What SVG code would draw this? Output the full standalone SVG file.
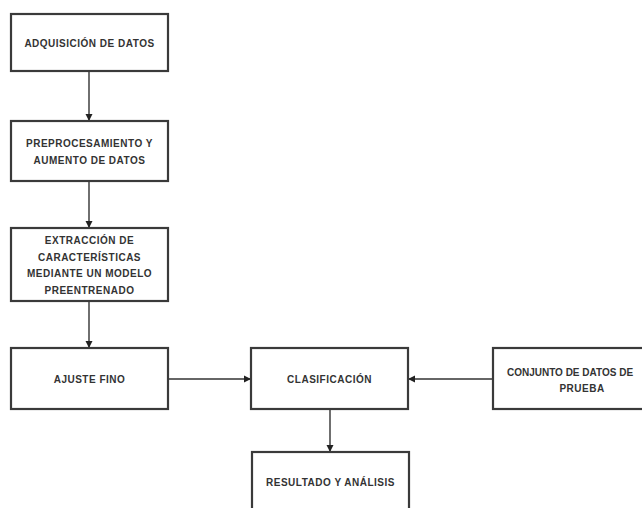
<svg xmlns="http://www.w3.org/2000/svg" width="642" height="508" viewBox="0 0 642 508">
<defs>
<marker id="ah" markerWidth="8" markerHeight="8" refX="7" refY="4" orient="auto" markerUnits="userSpaceOnUse">
<path d="M0,0.5 L7,4 L0,7.5 Z" fill="#222"/>
</marker>
<style>
.box{fill:#fff;stroke:#3a3a3a;stroke-width:2.2}
.t{font-family:"Liberation Sans",Arial,sans-serif;font-size:10px;font-weight:bold;fill:#333;text-anchor:middle;dominant-baseline:central;letter-spacing:0.5px}
.c{stroke:#333;stroke-width:1.4;fill:none;marker-end:url(#ah)}
</style>
</defs>
<rect width="642" height="508" fill="#fff"/>
<g id="connectors">
<line class="c" x1="89" y1="71" x2="89" y2="121"/>
<line class="c" x1="89" y1="181" x2="89" y2="228"/>
<line class="c" x1="89" y1="301" x2="89" y2="348"/>
<line class="c" x1="168" y1="379" x2="251" y2="379"/>
<line class="c" x1="493" y1="379" x2="408" y2="379"/>
<line class="c" x1="330" y1="409" x2="330" y2="452"/>
</g>
<g id="n1">
<rect class="box" x="11" y="14" width="157" height="57"/>
<text class="t" x="89.5" y="43">ADQUISICIÓN DE DATOS</text>
</g>
<g id="n2">
<rect class="box" x="11" y="121" width="157" height="60"/>
<text class="t" x="89.5" y="143">PREPROCESAMIENTO Y</text>
<text class="t" x="89.5" y="160">AUMENTO DE DATOS</text>
</g>
<g id="n3">
<rect class="box" x="11" y="228" width="157" height="73"/>
<text class="t" x="89.5" y="240">EXTRACCIÓN DE</text>
<text class="t" x="89.5" y="257">CARACTERÍSTICAS</text>
<text class="t" x="89.5" y="273">MEDIANTE UN MODELO</text>
<text class="t" x="89.5" y="290">PREENTRENADO</text>
</g>
<g id="n4">
<rect class="box" x="11" y="348" width="157" height="61"/>
<text class="t" x="89.5" y="379">AJUSTE FINO</text>
</g>
<g id="n5">
<rect class="box" x="251" y="348" width="157" height="61"/>
<text class="t" x="329.5" y="379">CLASIFICACIÓN</text>
</g>
<g id="n6">
<rect class="box" x="493" y="348" width="178" height="61"/>
<text class="t" x="570" y="372" style="letter-spacing:0">CONJUNTO DE DATOS DE</text>
<text class="t" x="582" y="388">PRUEBA</text>
</g>
<g id="n7">
<rect class="box" x="252" y="452" width="157" height="70"/>
<text class="t" x="330.5" y="482">RESULTADO Y ANÁLISIS</text>
</g>
</svg>
